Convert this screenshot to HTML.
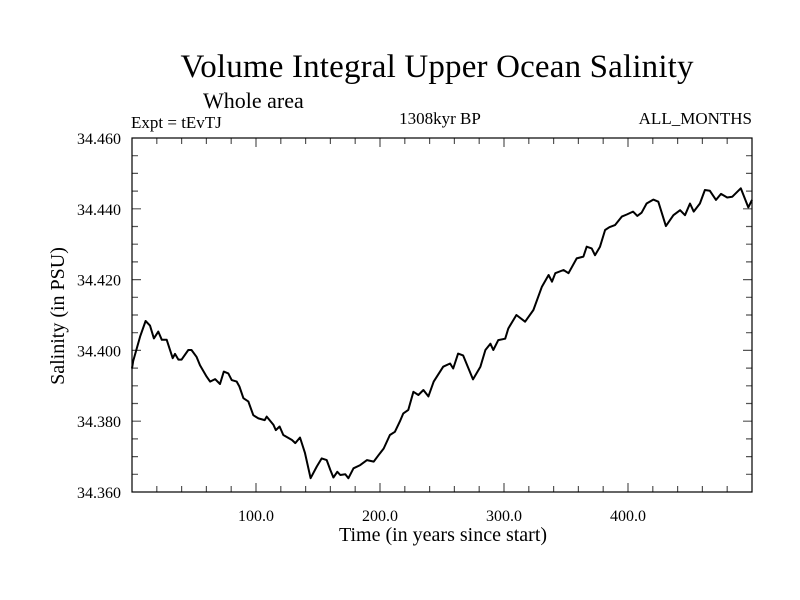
<!DOCTYPE html>
<html><head><meta charset="utf-8"><style>
body{margin:0;background:#fff;}
svg{display:block;font-family:"Liberation Serif",serif;}
</style></head><body>
<svg width="800" height="600" id="chart">
<text x="437" y="77" font-size="33" text-anchor="middle" textLength="513">Volume Integral Upper Ocean Salinity</text>
<text x="203" y="108" font-size="22">Whole area</text>
<text x="131" y="128" font-size="17">Expt = tEvTJ</text>
<text x="440" y="124" font-size="17" text-anchor="middle">1308kyr BP</text>
<text x="752" y="124" font-size="17" text-anchor="end">ALL_MONTHS</text>
<text x="443" y="541" font-size="20" text-anchor="middle">Time (in years since start)</text>
<text x="0" y="0" font-size="20" text-anchor="middle" transform="translate(64,316) rotate(-90)">Salinity (in PSU)</text>
<g id="axes"></g>
<rect x="132" y="138" width="620" height="354" fill="none" stroke="#000" stroke-width="1.2"/>
</svg>
<script>
const xs=[0,1,6.5,11,14.5,17.7,21.2,24,28,32.8,34.7,37.4,40,45.4,48,52,54.8,60.2,63,67,71,74,77.7,80.4,84.4,86.6,89.8,93.8,97.8,101.9,107,108.6,114,116,119,122,129,131.7,135.5,139.5,144,149,153,157,160,162.4,165.6,168,172,174.5,178.6,184,189.5,194.9,199,203,208,212,216,218.8,222.8,226.9,231,235,239,243.3,251,256.5,259,263,267,275,281,285,289,291.4,295.4,301,303.5,310,317,323.7,330.6,336,338.7,341.4,348,352,358.6,364,366.7,370.7,373.4,377.4,381.5,385,389.5,395,399,404,407.5,411,415,420.4,424.4,430.6,436.6,442,446,450,453,458,462,466,471,475,480,484,491,497,500];
const ys=[34.3949,34.397,34.4039,34.4083,34.407,34.4034,34.4053,34.403,34.403,34.3978,34.399,34.3974,34.3974,34.4001,34.4001,34.3982,34.3958,34.3926,34.3912,34.3919,34.3905,34.394,34.3935,34.3916,34.3912,34.3898,34.3865,34.3856,34.3817,34.3808,34.3803,34.3813,34.379,34.3775,34.3785,34.3761,34.3747,34.3738,34.3754,34.371,34.3639,34.3672,34.3695,34.369,34.3662,34.3641,34.3657,34.3648,34.365,34.3639,34.3667,34.3676,34.369,34.3686,34.3705,34.3723,34.3761,34.377,34.3799,34.3822,34.3832,34.3883,34.3874,34.3888,34.387,34.3912,34.3954,34.3963,34.3949,34.3991,34.3986,34.3918,34.3954,34.4001,34.4019,34.4001,34.4029,34.4033,34.4062,34.41,34.4081,34.4114,34.418,34.4213,34.4194,34.4218,34.4227,34.4218,34.426,34.4265,34.4293,34.4288,34.4269,34.4293,34.434,34.4348,34.4354,34.4378,34.4384,34.4392,34.438,34.4389,34.4415,34.4426,34.442,34.4351,34.4382,34.4396,34.4382,34.4415,34.4392,34.4415,34.4453,34.4451,34.4425,34.4442,34.4432,34.4434,34.4458,34.4404,34.4425];
const xTicks=[100,200,300,400];
const xTickLabels=["100.0","200.0","300.0","400.0"];
const yTicks=[34.36,34.38,34.40,34.42,34.44,34.46];
const yTickLabels=["34.360","34.380","34.400","34.420","34.440","34.460"];
const X0=132,X1=752,Y0=492,Y1=138,xmin=0,xmax=500,ymin=34.36,ymax=34.46;
const sx=v=>X0+(v-xmin)/(xmax-xmin)*(X1-X0);
const sy=v=>Y0-(v-ymin)/(ymax-ymin)*(Y0-Y1);
const NS="http://www.w3.org/2000/svg";
const g=document.getElementById('axes');
function mk(t,a){const e=document.createElementNS(NS,t);for(const k in a)e.setAttribute(k,a[k]);g.appendChild(e);return e;}
let d="";
for(let v=20;v<500;v+=20){const x=sx(v);const L=(v%100===0)?9:6;d+=`M${x} ${Y0}V${Y0-L}M${x} ${Y1}V${Y1+L}`;}
for(let i=1;i<20;i++){const v=ymin+i*0.005;const y=sy(v);const L=(i%4===0)?9:6;d+=`M${X0} ${y}H${X0+L}M${X1} ${y}H${X1-L}`;}
const tk=mk('path',{d:d,stroke:'#555',fill:'none','stroke-width':1.2});


xTicks.forEach((v,i)=>{const t=mk('text',{x:sx(v),y:521,'font-size':16,'text-anchor':'middle'});t.textContent=xTickLabels[i];

});
yTicks.forEach((v,i)=>{const t=mk('text',{x:121,y:sy(v)+6,'font-size':16,'text-anchor':'end'});t.textContent=yTickLabels[i];

});
const pts=xs.map((v,i)=>sx(v).toFixed(1)+","+sy(ys[i]).toFixed(1)).join(" ");
const ln=mk('polyline',{points:pts,fill:'none',stroke:'#000','stroke-width':2,'stroke-linejoin':'round'});


</script>
</body></html>
